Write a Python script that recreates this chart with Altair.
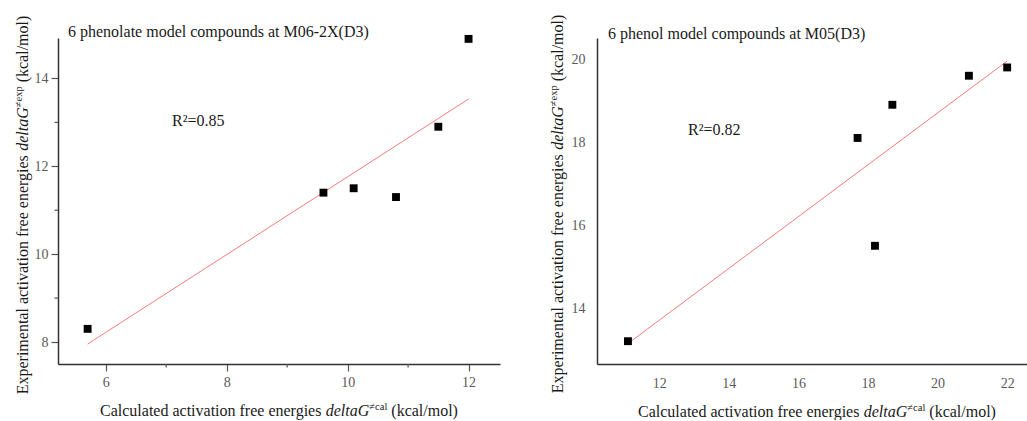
import altair as alt
import pandas as pd

# ---------------- data ----------------
left_x = [5.7, 9.6, 10.1, 10.8, 11.5, 12.0]
left_y = [8.3, 11.4, 11.5, 11.3, 12.9, 14.9]
right_x = [11.1, 17.7, 18.2, 18.7, 20.9, 22.0]
right_y = [13.2, 18.1, 15.5, 18.9, 19.6, 19.8]

left_title = "6 phenolate model compounds at M06-2X(D3)"
right_title = "6 phenol model compounds at M05(D3)"
left_r2 = "R\u00b2=0.85"
right_r2 = "R\u00b2=0.82"

left_xticks = [6, 8, 10, 12]
left_yticks = [8, 10, 12, 14]
left_xminor = [7, 9, 11]
left_yminor = [9, 11, 13]
right_xticks = [12, 14, 16, 18, 20, 22]
right_yticks = [14, 16, 18, 20]

FONT = "Liberation Serif"
TXT = "#1a1a1a"
LAB = "#5a5a5a"
FIT = "#f27c7c"

# Times metrics (1/1000 em) used to lay out mixed-style axis titles
W_REG = {" ": 250, "(": 333, ")": 333, "/": 278, "=": 564, ".": 250, "-": 333,
         "a": 444, "b": 500, "c": 444, "d": 500, "e": 444, "f": 333, "g": 500,
         "h": 500, "i": 278, "j": 278, "k": 500, "l": 278, "m": 778, "n": 500,
         "o": 500, "p": 500, "q": 500, "r": 333, "s": 389, "t": 278, "u": 500,
         "v": 500, "w": 722, "x": 500, "y": 500, "z": 444, "C": 667, "E": 611,
         "G": 722, "\u2260": 549}
W_IT = {"a": 500, "d": 500, "e": 444, "l": 278, "t": 278, "G": 722}


def tw(s, italic=False):
    tab = W_IT if italic else W_REG
    return sum(tab.get(ch, W_REG.get(ch, 500)) for ch in s) / 1000.0


F = 16.0
S = 10.5
RAISE = 6.0


def segments(pre, sup, post):
    parts = [(pre, False, F, False), (" ", False, F, False),
             ("deltaG", True, F, False), (sup, False, S, True),
             (" ", False, F, False), (post, False, F, False)]
    out, pos = [], 0.0
    for text, it, size, raised in parts:
        if text.strip():
            out.append((text, pos, size, it, raised))
        pos += tw(text, it) * size
    return out, pos


def xtitle(center, base):
    segs, total = segments("Calculated activation free energies", "\u2260cal", "(kcal/mol)")
    start = center - total / 2
    layers = []
    for text, off, size, it, raised in segs:
        layers.append(
            alt.Chart(pd.DataFrame({"t": [text]})).mark_text(
                align="left", baseline="alphabetic", font=FONT, fontSize=size,
                fontStyle="italic" if it else "normal", color=TXT
            ).encode(text="t:N", x=alt.value(start + off),
                     y=alt.value(base - (RAISE if raised else 0)))
        )
    return layers


def ytitle(center, base):
    segs, total = segments("Experimental activation free energies", "\u2260exp", "(kcal/mol)")
    start = center + total / 2
    layers = []
    for text, off, size, it, raised in segs:
        layers.append(
            alt.Chart(pd.DataFrame({"t": [text]})).mark_text(
                align="left", baseline="alphabetic", font=FONT, fontSize=size,
                fontStyle="italic" if it else "normal", color=TXT, angle=270
            ).encode(text="t:N", x=alt.value(base - (RAISE if raised else 0)),
                     y=alt.value(start - off))
        )
    return layers


def label(text, x, y, size=16):
    return alt.Chart(pd.DataFrame({"t": [text]})).mark_text(
        align="left", baseline="alphabetic", font=FONT, fontSize=size, color=TXT
    ).encode(text="t:N", x=alt.value(x), y=alt.value(y))


# ---------------- left panel ----------------
W1, H1 = 442, 326
ldf = pd.DataFrame({"x": left_x, "y": left_y})
lxs = alt.Scale(domain=[5.21, 12.52], nice=False, zero=False)
lys = alt.Scale(domain=[7.5, 14.92], nice=False, zero=False)

l_axis_x = alt.Axis(values=left_xticks, format="d", grid=False, title=None,
                    domainColor="#333", domainWidth=1.5, tickColor="#555", tickSize=7,
                    tickWidth=1.2, labelColor=LAB, labelFont=FONT, labelFontSize=14,
                    labelPadding=4)
l_axis_y = alt.Axis(values=left_yticks, format="d", grid=False, title=None,
                    domainColor="#333", domainWidth=1.5, tickColor="#555", tickSize=7,
                    tickWidth=1.2, labelColor=LAB, labelFont=FONT, labelFontSize=14,
                    labelPadding=3)

l_pts = alt.Chart(ldf).mark_square(size=62, color="black", opacity=1).encode(
    x=alt.X("x:Q", scale=lxs, axis=l_axis_x),
    y=alt.Y("y:Q", scale=lys, axis=l_axis_y),
)
l_fit = alt.Chart(ldf).transform_regression("x", "y").mark_line(
    color=FIT, strokeWidth=1).encode(x=alt.X("x:Q", scale=lxs), y=alt.Y("y:Q", scale=lys))
l_mx = alt.Chart(pd.DataFrame({"m": left_xminor})).mark_rule(color="#555", strokeWidth=1.2).encode(
    x=alt.X("m:Q", scale=lxs), y=alt.value(H1), y2=alt.value(H1 + 3.5))
l_my = alt.Chart(pd.DataFrame({"m": left_yminor})).mark_rule(color="#555", strokeWidth=1.2).encode(
    y=alt.Y("m:Q", scale=lys), x=alt.value(0), x2=alt.value(-3.5))
anchor = alt.Chart(pd.DataFrame({"a": [0]})).mark_rule(color="white", strokeWidth=1).encode(
    x=alt.value(-57.5), x2=alt.value(-57.0), y=alt.value(-37.5), y2=alt.value(-37.0))

left = alt.layer(
    anchor, l_fit, l_mx, l_my, l_pts,
    label(left_title, 10, -1), label(left_r2, 114, 88),
    *xtitle(W1 / 2, 378), *ytitle(167, -30),
).properties(width=W1, height=H1)

# ---------------- right panel ----------------
W2, H2 = 430, 326
rdf = pd.DataFrame({"x": right_x, "y": right_y})
rxs = alt.Scale(domain=[10.21, 22.57], nice=False, zero=False)
rys = alt.Scale(domain=[12.65, 20.51], nice=False, zero=False)

r_axis_x = alt.Axis(values=right_xticks, format="d", grid=False, title=None, ticks=False,
                    tickSize=0, domainColor="#333", domainWidth=1.5, labelColor=LAB,
                    labelFont=FONT, labelFontSize=14, labelPadding=12)
r_axis_y = alt.Axis(values=right_yticks, format="d", grid=False, title=None, ticks=False,
                    tickSize=0, domainColor="#333", domainWidth=1.5, labelColor=LAB,
                    labelFont=FONT, labelFontSize=14, labelPadding=12)

r_pts = alt.Chart(rdf).mark_square(size=62, color="black", opacity=1).encode(
    x=alt.X("x:Q", scale=rxs, axis=r_axis_x),
    y=alt.Y("y:Q", scale=rys, axis=r_axis_y),
)
r_fit = alt.Chart(rdf).transform_regression("x", "y").mark_line(
    color=FIT, strokeWidth=1).encode(x=alt.X("x:Q", scale=rxs), y=alt.Y("y:Q", scale=rys))

right = alt.layer(
    r_fit, r_pts,
    label(right_title, 11, 1), label(right_r2, 91, 97),
    *xtitle(220, 379), *ytitle(166, -34),
).properties(width=W2, height=H2)

chart = alt.hconcat(left, right, spacing=97, bounds="flush").properties(
    padding={"left": 0, "top": 0, "right": 0, "bottom": 0},
    background="white",
).configure_view(strokeWidth=0)

chart.save("out.html", embed_options={"renderer": "svg", "actions": False})
